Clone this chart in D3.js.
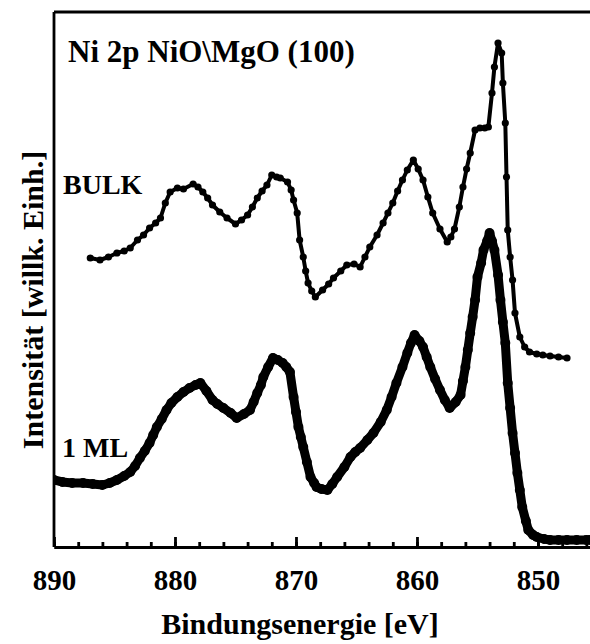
<!DOCTYPE html>
<html lang="de">
<head>
<meta charset="UTF-8">
<title>Ni 2p NiO\MgO (100)</title>
<script src="https://cdn.jsdelivr.net/npm/d3@7"></script>
<style>
    body { margin: 0; background: #fff; }
    text { font-family: "Liberation Serif", "Times New Roman", serif; font-weight: bold; fill: #000; }
    .axis path, .axis line { fill: none; stroke: #000; stroke-width: 2.8; }
    .axis text { font-size: 29px; font-family: "Liberation Serif", "Times New Roman", serif; font-weight: bold; }
</style>
</head>
<body>
<script>
// Bindungsenergie [eV] und Intensitaet (willk. Einh.)
var bulkE = [887.0, 886.2, 885.5, 884.8, 884.2, 883.7, 883.1, 882.6, 882.1, 881.6, 881.2, 880.8, 880.4,
    879.8, 879.3, 878.5, 878.1, 877.7, 877.3, 876.9, 876.3, 875.7, 875.0, 874.5, 874.0, 873.6, 873.2,
    872.8, 872.4, 872.0, 871.6, 871.3, 870.7, 870.4, 870.2, 869.9, 869.7, 869.4, 869.2, 869.0, 868.7,
    868.4, 867.8, 867.3, 866.9, 866.3, 865.8, 865.2, 864.7, 864.3, 863.9, 863.3, 862.8, 862.4, 862.0,
    861.6, 861.2, 860.8, 860.3, 859.9, 859.5, 859.1, 858.7, 858.1, 857.5, 857.2, 856.9, 856.5, 856.2,
    855.9, 855.6, 855.2, 854.8, 854.4, 854.1, 853.8, 853.6, 853.3, 853.0, 852.9, 852.7, 852.6, 852.5,
    852.3, 852.1, 851.9, 851.5, 851.1, 850.7, 850.1, 849.6, 849.0, 848.3, 847.6];
var bulkI = [289, 287, 290, 294, 296, 299, 307, 312, 319, 324, 329, 344, 355,
    359, 358, 363, 360, 355, 349, 342, 335, 329, 323, 327, 332, 340, 349,
    356, 362, 372, 370, 369, 365, 357, 347, 334, 307, 290, 276, 264, 256,
    250, 257, 263, 269, 276, 282, 283, 280, 290, 300, 312, 324, 334, 344,
    356, 367, 377, 387, 378, 367, 350, 334, 318, 305, 310, 318, 340, 360,
    378, 394, 417, 419, 419, 420, 454, 480, 504, 494, 464, 424, 370, 317,
    290, 267, 234, 210, 200, 195, 193, 192, 191, 190, 189];

var mlE = [890.0, 889.3, 888.5, 887.6, 886.8, 886.0, 885.4, 884.8, 884.2, 883.7, 883.3, 882.9, 882.5,
    882.1, 881.8, 881.5, 881.1, 880.7, 880.3, 879.8, 879.3, 878.8, 878.3, 877.9, 877.4, 876.9, 876.5,
    876.0, 875.4, 874.9, 874.3, 873.8, 873.5, 873.2, 872.9, 872.7, 872.3, 871.9, 871.5, 871.1, 870.8,
    870.5, 870.2, 870.0, 869.8, 869.6, 869.4, 869.1, 868.8, 868.5, 868.3, 867.9, 867.4, 867.0, 866.6,
    866.0, 865.5, 865.1, 864.7, 864.1, 863.6, 863.0, 862.5, 862.1, 861.7, 861.2, 860.8, 860.5, 860.2,
    859.8, 859.5, 859.2, 858.9, 858.5, 858.1, 857.7, 857.3, 856.8, 856.4, 856.2, 856.0, 855.8, 855.6,
    855.4, 855.2, 855.0, 854.7, 854.5, 854.2, 854.0, 853.8, 853.6, 853.3, 853.1, 852.9, 852.7, 852.5,
    852.3, 852.1, 851.9, 851.7, 851.5, 851.3, 851.0, 850.8, 850.4, 850.1, 849.5, 849.0, 848.3, 847.6,
    846.8, 846.0, 845.7];
var mlI = [67, 65, 64, 64, 63, 62, 64, 67, 71, 75, 81, 89, 96,
    104, 112, 120, 128, 137, 144, 150, 155, 159, 162, 164, 156, 147, 143,
    139, 134, 129, 133, 137, 145, 154, 162, 170, 180, 189, 187, 184, 180,
    175, 150, 135, 120, 110, 100, 85, 70, 64, 60, 58, 57, 63, 70,
    80, 90, 95, 99, 107, 114, 125, 137, 150, 164, 180, 194, 204, 212,
    206, 200, 190, 180, 168, 157, 147, 139, 145, 152, 166, 180, 197, 214,
    230, 247, 270, 284, 297, 306, 314, 306, 297, 272, 247, 225, 204, 164,
    139, 114, 94, 74, 57, 40, 26, 17, 12, 10, 8, 7, 7, 7,
    7, 7, 7];

var majorTicks = [890, 880, 870, 860, 850];
var minorTicks = d3.range(890, 845, -2);

var width = 590, height = 644;
var padding = {left: 54, right: 0, top: 12, bottom: 97};

var svg = d3.select("body").append("svg")
    .attr("width", width)
    .attr("height", height);

var xScale = d3.scaleLinear().domain([890, 845.7]).range([padding.left, width - padding.right]);
var yScale = d3.scaleLinear().domain([0, 535]).range([height - padding.bottom, padding.top]);

svg.append("clipPath").attr("id", "plot")
    .append("rect")
    .attr("x", padding.left).attr("y", padding.top)
    .attr("width", width - padding.left - padding.right)
    .attr("height", height - padding.top - padding.bottom);

var line = d3.line()
    .x(function(d){ return xScale(d[0]); })
    .y(function(d){ return yScale(d[1]); });

function drawCurve(E, I, lw, r) {
    var pts = E.map(function(e, i){ return [e, I[i]]; });
    var g = svg.append("g").attr("clip-path", "url(#plot)");
    g.append("path")
        .datum(pts)
        .attr("d", line)
        .attr("fill", "none")
        .attr("stroke", "#000")
        .attr("stroke-width", lw)
        .attr("stroke-linejoin", "round");
    g.selectAll("circle")
        .data(pts)
        .enter()
        .append("circle")
        .attr("cx", function(d){ return xScale(d[0]); })
        .attr("cy", function(d){ return yScale(d[1]); })
        .attr("r", r)
        .attr("fill", "#000");
}

drawCurve(bulkE, bulkI, 4, 3.6);
drawCurve(mlE, mlI, 9, 5);

// Rahmen links und oben
svg.append("line")
    .attr("x1", padding.left).attr("x2", padding.left)
    .attr("y1", padding.top).attr("y2", height - padding.bottom)
    .attr("stroke", "#000").attr("stroke-width", 2.8);
svg.append("line")
    .attr("x1", padding.left).attr("x2", width)
    .attr("y1", padding.top).attr("y2", padding.top)
    .attr("stroke", "#000").attr("stroke-width", 2.8);

// x-Achse: kleine Striche
svg.append("g")
    .attr("class", "axis")
    .attr("transform", "translate(0," + (height - padding.bottom) + ")")
    .call(d3.axisBottom(xScale).tickValues(minorTicks).tickSize(-5).tickSizeOuter(0).tickFormat(""));

// x-Achse: Hauptstriche mit Beschriftung
svg.append("g")
    .attr("class", "axis")
    .attr("transform", "translate(0," + (height - padding.bottom) + ")")
    .call(d3.axisBottom(xScale).tickValues(majorTicks).tickSize(-10).tickSizeOuter(0).tickPadding(43).tickFormat(d3.format("d")))
    .selectAll("text")
    .attr("dy", "0");

svg.append("text")
    .attr("x", 300).attr("y", 634)
    .attr("text-anchor", "middle")
    .style("font-size", "30px")
    .text("Bindungsenergie [eV]");

svg.append("text")
    .attr("transform", "translate(43,300) rotate(-90)")
    .attr("text-anchor", "middle")
    .style("font-size", "30px")
    .text("Intensität [willk. Einh.]");

svg.append("text")
    .attr("x", 68).attr("y", 62)
    .style("font-size", "31px")
    .text("Ni 2p NiO\\MgO (100)");

svg.append("text")
    .attr("x", 63).attr("y", 194)
    .style("font-size", "28px")
    .text("BULK");

svg.append("text")
    .attr("x", 62).attr("y", 457)
    .style("font-size", "28px")
    .text("1 ML");
</script>
</body>
</html>
